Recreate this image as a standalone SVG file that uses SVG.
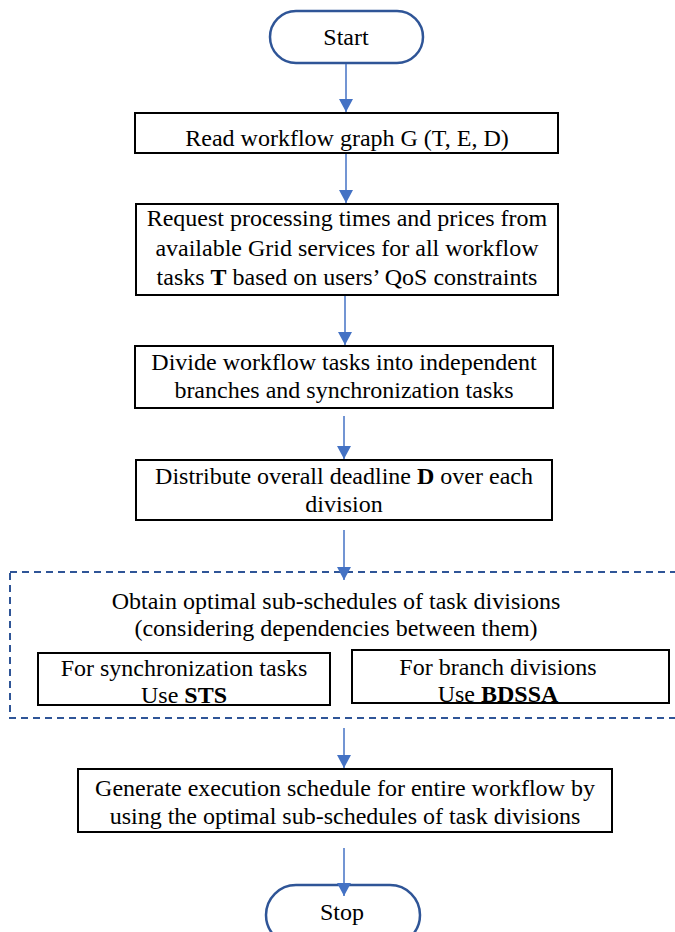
<svg xmlns="http://www.w3.org/2000/svg" width="675" height="932" viewBox="0 0 675 932">
<style>
text{font-family:"Liberation Serif","Times New Roman",serif;font-size:24px;fill:#000;text-anchor:middle}
.b{font-weight:bold}
.box{fill:#fff;stroke:#000;stroke-width:2}
.term{fill:#fff;stroke:#2F5597;stroke-width:2.5}
.con{stroke:#4472C4;stroke-width:1.5;fill:none}
.dash{fill:none;stroke:#2F5597;stroke-width:2;stroke-dasharray:7 5}
</style>
<defs>
<marker id="ah" viewBox="0 0 13 14" refX="13" refY="7" markerWidth="13" markerHeight="14" markerUnits="userSpaceOnUse" orient="auto">
<path d="M0,0 L13,7 L0,14 z" fill="#4472C4"/>
</marker>
</defs>
<rect x="0" y="0" width="675" height="932" fill="#fff"/>
<g id="start">
<rect class="term" x="270" y="11" width="153" height="52" rx="26"/>
<text x="346" y="45">Start</text>
</g>
<g id="read">
<rect class="box" x="135" y="113" width="423" height="40"/>
<text x="347" y="146">Read workflow graph G (T, E, D)</text>
</g>
<g id="request">
<rect class="box" x="136" y="204" width="422" height="91"/>
<text x="347" y="226">Request processing times and prices from</text>
<text x="347" y="256">available Grid services for all workflow</text>
<text x="347" y="285">tasks <tspan class="b">T</tspan> based on users’ QoS constraints</text>
</g>
<g id="divide">
<rect class="box" x="135" y="346" width="418" height="62"/>
<text x="344" y="370">Divide workflow tasks into independent</text>
<text x="344" y="398">branches and synchronization tasks</text>
</g>
<g id="distribute">
<rect class="box" x="136" y="460" width="416" height="60"/>
<text x="344" y="484">Distribute overall deadline <tspan class="b">D</tspan> over each</text>
<text x="344" y="512">division</text>
</g>
<g id="obtain">
<rect class="dash" x="10" y="572" width="680" height="146"/>
<text x="336" y="609">Obtain optimal sub-schedules of task divisions</text>
<text x="336" y="636">(considering dependencies between them)</text>
</g>
<g id="sts">
<rect class="box" x="38" y="653" width="292" height="52"/>
<text x="184" y="676">For synchronization tasks</text>
<text x="184" y="703">Use <tspan class="b">STS</tspan></text>
</g>
<g id="bdssa">
<rect class="box" x="352" y="650" width="317" height="53"/>
<text x="498" y="675">For branch divisions</text>
<text x="498" y="702">Use <tspan class="b">BDSSA</tspan></text>
</g>
<g id="generate">
<rect class="box" x="78" y="769" width="534" height="63"/>
<text x="345" y="796">Generate execution schedule for entire workflow by</text>
<text x="345" y="824">using the optimal sub-schedules of task divisions</text>
</g>
<g id="stop">
<rect class="term" x="266" y="885" width="154" height="60" rx="30"/>
<text x="342" y="920">Stop</text>
</g>
<g id="connectors">
<line class="con" x1="346" y1="64" x2="346" y2="112" marker-end="url(#ah)"/>
<line class="con" x1="346" y1="154" x2="346" y2="203" marker-end="url(#ah)"/>
<line class="con" x1="345" y1="296" x2="345" y2="345" marker-end="url(#ah)"/>
<line class="con" x1="344" y1="416" x2="344" y2="459" marker-end="url(#ah)"/>
<line class="con" x1="344" y1="530" x2="344" y2="580" marker-end="url(#ah)"/>
<line class="con" x1="344" y1="728" x2="344" y2="768" marker-end="url(#ah)"/>
<line class="con" x1="344" y1="848" x2="344" y2="896" marker-end="url(#ah)"/>
</g>
</svg>
